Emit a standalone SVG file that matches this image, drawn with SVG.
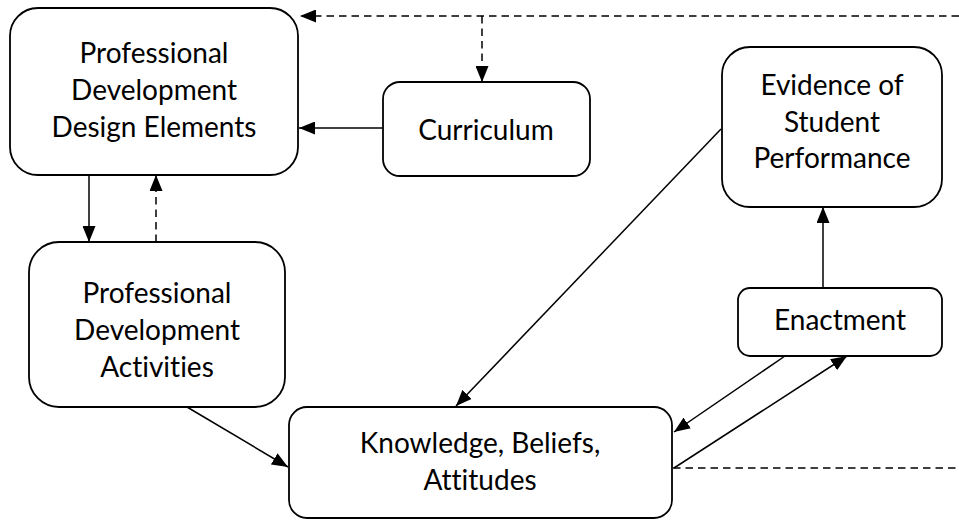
<svg xmlns="http://www.w3.org/2000/svg" width="959" height="520" viewBox="0 0 959 520">
<style>
.box{fill:#fff;stroke:#000;stroke-width:1.8}
.t{font-family:Lato,"Liberation Sans",sans-serif;font-size:28px;fill:#000;text-anchor:middle;font-variant-ligatures:none;font-feature-settings:"liga" 0,"clig" 0}
.c{fill:none;stroke:#000;stroke-width:1.5}
.d{stroke-dasharray:7.5 5}
</style>
<defs>
<marker id="ah" viewBox="0 0 16 13" refX="16" refY="6.5" markerWidth="16" markerHeight="13" markerUnits="userSpaceOnUse" orient="auto">
<path d="M0,0 L16,6.5 L0,13 z" fill="#000"/>
</marker>
</defs>
<rect width="959" height="520" fill="#fff"/>
<g id="connectors">
<line class="c d" x1="959" y1="16" x2="300" y2="16" marker-end="url(#ah)"/>
<line class="c d" x1="482" y1="16" x2="482" y2="82" marker-end="url(#ah)"/>
<line class="c d" x1="673" y1="468" x2="959" y2="468"/>
<line class="c" x1="383" y1="128" x2="299" y2="128" marker-end="url(#ah)"/>
<line class="c" x1="89" y1="175" x2="89" y2="242" marker-end="url(#ah)"/>
<line class="c d" x1="156" y1="242" x2="156" y2="175" marker-end="url(#ah)"/>
<line class="c" x1="187" y1="407" x2="288" y2="467" marker-end="url(#ah)"/>
<line class="c" x1="721" y1="129" x2="456" y2="406" marker-end="url(#ah)"/>
<line class="c" x1="785" y1="356" x2="674" y2="432" marker-end="url(#ah)"/>
<line class="c" x1="674" y1="468" x2="847" y2="356" marker-end="url(#ah)"/>
<line class="c" x1="823" y1="288" x2="823" y2="207" marker-end="url(#ah)"/>
</g>
<g id="pd-design">
<rect class="box" x="10" y="8" width="288" height="167" rx="28" ry="28"/>
<text class="t" x="154" y="63">Professional</text>
<text class="t" x="154" y="100">Development</text>
<text class="t" x="154" y="137">Design Elements</text>
</g>
<g id="curriculum">
<rect class="box" x="383" y="82" width="207" height="94" rx="17" ry="17"/>
<text class="t" x="486" y="140">Curriculum</text>
</g>
<g id="evidence">
<rect class="box" x="722" y="47" width="220" height="160" rx="28" ry="28"/>
<text class="t" x="832" y="95">Evidence of</text>
<text class="t" x="832" y="132">Student</text>
<text class="t" x="832" y="168">Performance</text>
</g>
<g id="pd-activities">
<rect class="box" x="29" y="242" width="256" height="165" rx="30" ry="30"/>
<text class="t" x="157" y="303">Professional</text>
<text class="t" x="157" y="340">Development</text>
<text class="t" x="157" y="377">Activities</text>
</g>
<g id="enactment">
<rect class="box" x="738" y="288" width="204" height="68" rx="12" ry="12"/>
<text class="t" x="840" y="330">Enactment</text>
</g>
<g id="kba">
<rect class="box" x="289" y="407" width="383" height="111" rx="18" ry="18"/>
<text class="t" x="480" y="453">Knowledge, Beliefs,</text>
<text class="t" x="480" y="490">Attitudes</text>
</g>
</svg>
